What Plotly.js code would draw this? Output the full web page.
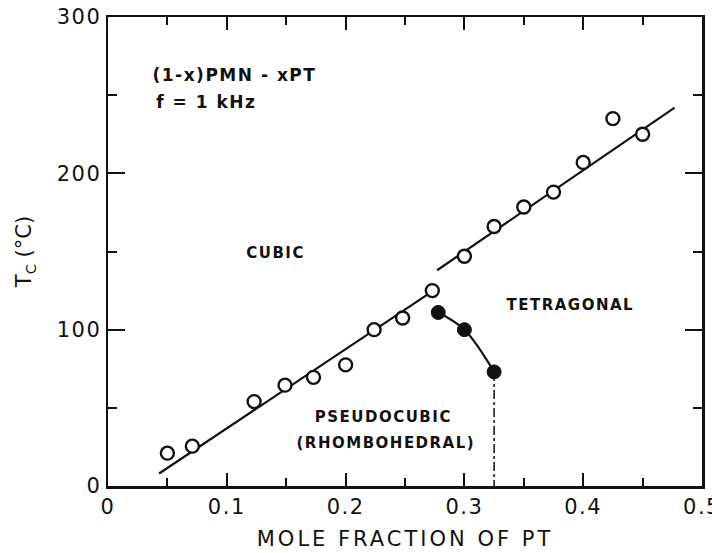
<!DOCTYPE html>
<html>
<head>
<meta charset="utf-8">
<script src="https://cdn.plot.ly/plotly-3.0.1.min.js"></script>
<style>
html,body{margin:0;padding:0;background:#fff;}
#chart{width:712px;height:553px;}
#chart .xtick text, #chart .ytick text{letter-spacing:1.5px;}
#chart .xtitle{letter-spacing:3px;}
#chart .annotation-text{letter-spacing:1.5px;}
</style>
</head>
<body>
<div id="chart"></div>
<script>
// Open circles: Tc of (1-x)PMN-xPT
var openX = [0.05, 0.071, 0.123, 0.149, 0.173, 0.2, 0.224, 0.248, 0.273, 0.3, 0.325, 0.35, 0.375, 0.4, 0.425, 0.45];
var openY = [21, 25.5, 54, 64.5, 69.5, 77.5, 100, 107.5, 125, 147, 166, 178.5, 188, 207, 235, 225];
// Filled circles: rhombohedral -> tetragonal boundary
var filledX = [0.278, 0.3, 0.325];
var filledY = [111, 100, 73];
// Fitted lines
var lowFitX = [0.043, 0.272];
var lowFitY = [8, 124];
var highFitX = [0.277, 0.477];
var highFitY = [138, 242];
// Morphotropic boundary (dash-dot)
var mpbX = [0.325, 0.325];
var mpbY = [73, 0];
// Tick labels
var xTickVals = [0, 0.1, 0.2, 0.3, 0.4, 0.5];
var xTickText = ["0", "0.1", "0.2", "0.3", "0.4", "0.5"];
var yTickVals = [0, 100, 200, 300];
var yTickText = ["0", "100", "200", "300"];

var ink = "#111";
var font = "DejaVu Sans, Arial, sans-serif";

var traces = [
  {x: lowFitX, y: lowFitY, mode: "lines", line: {color: ink, width: 2.2}, hoverinfo: "skip"},
  {x: highFitX, y: highFitY, mode: "lines", line: {color: ink, width: 2.2}, hoverinfo: "skip"},
  {x: filledX, y: filledY, mode: "lines", line: {color: ink, width: 2.2, shape: "spline"}, hoverinfo: "skip"},
  {x: mpbX, y: mpbY, mode: "lines", line: {color: ink, width: 1.5, dash: "dashdot"}, hoverinfo: "skip"},
  {x: openX, y: openY, mode: "markers",
   marker: {symbol: "circle", size: 13, color: "#fff", line: {color: ink, width: 2.4}}},
  {x: filledX, y: filledY, mode: "markers",
   marker: {symbol: "circle", size: 14, color: ink, line: {color: ink, width: 1}}}
];

var layout = {
  width: 712, height: 553,
  margin: {l: 108, r: 10, t: 17, b: 67},
  paper_bgcolor: "#fff", plot_bgcolor: "#fff",
  showlegend: false,
  font: {family: font, color: ink},
  xaxis: {
    range: [0, 0.5], showgrid: false, zeroline: false,
    showline: true, linecolor: ink, linewidth: 2.5, mirror: "allticks",
    ticks: "inside", ticklen: 13, tickwidth: 2, tickcolor: ink,
    tickvals: xTickVals, ticktext: xTickText, ticklabeloverflow: "allow",
    tickfont: {size: 21, family: font, color: ink},
    minor: {ticks: "inside", dtick: 0.05, ticklen: 8, tickwidth: 2, tickcolor: ink, showgrid: false},
    title: {text: "MOLE FRACTION OF PT", font: {size: 21, family: font, color: ink}, standoff: 14}
  },
  yaxis: {
    range: [0, 300], showgrid: false, zeroline: false,
    showline: true, linecolor: ink, linewidth: 2.5, mirror: "allticks",
    ticks: "inside", ticklen: 17, tickwidth: 2, tickcolor: ink,
    tickvals: yTickVals, ticktext: yTickText,
    tickfont: {size: 21, family: font, color: ink},
    minor: {ticks: "inside", dtick: 50, ticklen: 9, tickwidth: 2, tickcolor: ink, showgrid: false},
    title: {text: "T<sub>C</sub> (°C)", font: {size: 21, family: font, color: ink}, standoff: 24}
  },
  annotations: [
    {text: "<b>(1-x)PMN - xPT</b>", x: 0.045, y: 263, xref: "x", yref: "y", xanchor: "left", yanchor: "middle", showarrow: false, font: {size: 17, family: font, color: ink}},
    {text: "<b>f = 1 kHz</b>", x: 0.045, y: 245.5, xref: "x", yref: "y", xanchor: "left", yanchor: "middle", showarrow: false, font: {size: 17, family: font, color: ink}},
    {text: "<b>CUBIC</b>", x: 0.141, y: 149, xref: "x", yref: "y", xanchor: "center", yanchor: "middle", showarrow: false, font: {size: 15, family: font, color: ink}},
    {text: "<b>TETRAGONAL</b>", x: 0.389, y: 116, xref: "x", yref: "y", xanchor: "center", yanchor: "middle", showarrow: false, font: {size: 15, family: font, color: ink}},
    {text: "<b>PSEUDOCUBIC</b>", x: 0.232, y: 44, xref: "x", yref: "y", xanchor: "center", yanchor: "middle", showarrow: false, font: {size: 15, family: font, color: ink}},
    {text: "<b>(RHOMBOHEDRAL)</b>", x: 0.234, y: 27.5, xref: "x", yref: "y", xanchor: "center", yanchor: "middle", showarrow: false, font: {size: 15, family: font, color: ink}}
  ]
};

Plotly.newPlot("chart", traces, layout, {displayModeBar: false, staticPlot: true});
</script>
</body>
</html>
